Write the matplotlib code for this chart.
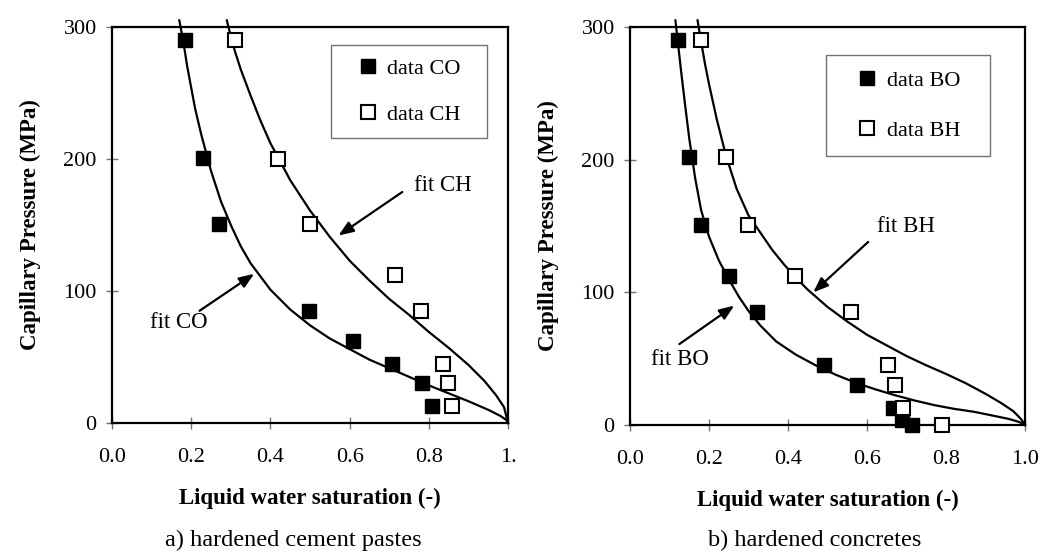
import matplotlib
matplotlib.use('Agg')
import matplotlib.pyplot as plt

plt.rcParams['font.family'] = ['Liberation Serif', 'DejaVu Serif']

# measured points, hardened cement pastes
co_x = [0.184, 0.229, 0.271, 0.497, 0.608, 0.706, 0.782, 0.809]
co_y = [290, 201, 151, 85, 62, 45, 30, 13]
ch_x = [0.31, 0.42, 0.50, 0.714, 0.781, 0.837, 0.849, 0.859]
ch_y = [290, 200, 151, 112, 85, 45, 30, 13]

# measured points, hardened concretes
bo_x = [0.121, 0.150, 0.179, 0.251, 0.322, 0.491, 0.574, 0.665, 0.689, 0.713]
bo_y = [290, 202, 151, 112, 85, 45, 30, 13, 4, 0]
bh_x = [0.181, 0.242, 0.298, 0.418, 0.559, 0.654, 0.671, 0.692, 0.789]
bh_y = [290, 202, 151, 112, 85, 45, 30, 13, 0]

# fitted curves
co_fit_x = [0.17, 0.18, 0.19, 0.20, 0.21, 0.225, 0.25, 0.275, 0.30, 0.325, 0.35, 0.375, 0.40,
            0.45, 0.50, 0.55, 0.60, 0.65, 0.70, 0.75, 0.80, 0.85, 0.90, 0.95, 0.98, 0.995, 1.0]
co_fit_y = [305, 289, 270, 254, 238, 219, 191, 168, 150, 134, 121, 111, 101,
            86, 74, 64, 56, 48, 41.5, 35, 28.5, 22.5, 16.5, 10, 5.5, 2.5, 0]
ch_fit_x = [0.29, 0.30, 0.31, 0.325, 0.35, 0.375, 0.40, 0.45, 0.50, 0.55, 0.60, 0.65, 0.70,
            0.75, 0.80, 0.85, 0.90, 0.94, 0.97, 0.99, 1.0]
ch_fit_y = [305, 293, 282, 268, 248, 229, 212, 184, 161, 141, 123, 108, 94,
            82, 69, 57, 44, 32, 21, 12, 0]
bo_fit_x = [0.115, 0.121, 0.13, 0.14, 0.15, 0.165, 0.18, 0.20, 0.225, 0.25, 0.275, 0.30, 0.33,
            0.37, 0.42, 0.47, 0.52, 0.57, 0.62, 0.67, 0.72, 0.77, 0.82, 0.87, 0.92, 0.96, 0.985, 1.0]
bo_fit_y = [305, 289, 265, 240, 216, 186, 162, 142, 124, 110, 97, 86, 75,
            63, 53, 45, 38, 32, 27, 22.5, 18.5, 15, 12.2, 10, 7, 4.5, 2.3, 0]
bh_fit_x = [0.171, 0.18, 0.19, 0.20, 0.22, 0.243, 0.27, 0.30, 0.33, 0.36, 0.39, 0.42, 0.45, 0.50,
            0.55, 0.60, 0.65, 0.70, 0.75, 0.80, 0.85, 0.90, 0.94, 0.97, 0.99, 1.0]
bh_fit_y = [305, 289, 272, 257, 230, 203, 178, 158, 145, 132, 121, 111, 102, 89,
            78, 68, 60, 52, 45, 38.5, 31.5, 23.5, 16.5, 10.5, 4.5, 0]

xticks = [0.0, 0.2, 0.4, 0.6, 0.8, 1.0]
yticks = [0, 100, 200, 300]


def setup_axes(ax, xticklabels):
    ax.set_xlim(0, 1)
    ax.set_ylim(0, 300)
    ax.set_xticks(xticks)
    ax.set_xticklabels(xticklabels)
    ax.set_yticks(yticks)
    for sp in ax.spines.values():
        sp.set_linewidth(1.6)
        sp.set_color('black')
    ax.tick_params(axis='both', direction='inout', length=8, width=1,
                   color='0.45', labelsize=16)
    ax.tick_params(axis='x', pad=14)
    ax.tick_params(axis='y', pad=7)
    ax.set_xlabel('Liquid water saturation (-)', fontsize=16.5, fontweight='bold', labelpad=15)
    ax.set_ylabel('Capillary Pressure (MPa)', fontsize=16.5, fontweight='bold', labelpad=16)


def draw_panel(ax, fit_o, fit_h, dat_o, dat_h, names):
    ax.plot(fit_o[0], fit_o[1], color='black', lw=1.6, clip_on=False, zorder=3)
    ax.plot(fit_h[0], fit_h[1], color='black', lw=1.6, clip_on=False, zorder=3)
    h1, = ax.plot(dat_o[0], dat_o[1], ls='none', marker='s', ms=9.5, mfc='black', mec='black',
                  clip_on=False, zorder=4, label=names[0])
    h2, = ax.plot(dat_h[0], dat_h[1], ls='none', marker='s', ms=9.5, mfc='white', mec='black',
                  mew=1.5, clip_on=False, zorder=4, label=names[1])
    return [h1, h2]


def arrow(ax, label, text_xy, tail, tip):
    ax.annotate('', xy=tip, xytext=tail,
                arrowprops=dict(arrowstyle='-|>,head_length=0.9,head_width=0.35',
                                color='black', lw=1.6, shrinkA=0, shrinkB=0))
    ax.text(text_xy[0], text_xy[1], label, fontsize=16.5, ha='left', va='center')


fig = plt.figure(figsize=(10.43, 5.54), dpi=100)
ax1 = fig.add_axes([112 / 1043, 131 / 554, 396 / 1043, 396 / 554])
ax2 = fig.add_axes([630 / 1043, 129 / 554, 395 / 1043, 398 / 554])

setup_axes(ax1, ['0.0', '0.2', '0.4', '0.6', '0.8', '1.'])
setup_axes(ax2, ['0.0', '0.2', '0.4', '0.6', '0.8', '1.0'])

hs = draw_panel(ax1, (co_fit_x, co_fit_y), (ch_fit_x, ch_fit_y), (co_x, co_y), (ch_x, ch_y),
                ['data CO', 'data CH'])
leg = ax1.legend(hs, ['data CO', 'data CH'], loc='upper left',
                 bbox_to_anchor=(0.552, 0.5, 0.396, 0.4545), mode='expand', borderaxespad=0,
                 borderpad=0.6, labelspacing=1.13, handlelength=2.19, handletextpad=-0.27,
                 fontsize=16, fancybox=False, edgecolor='0.45', framealpha=1, markerscale=1.0)
leg.get_frame().set_linewidth(1.0)
arrow(ax1, 'fit CH', (0.763, 180), (0.733, 175), (0.572, 142))
arrow(ax1, 'fit CO', (0.096, 76), (0.221, 85), (0.359, 113))

hs = draw_panel(ax2, (bo_fit_x, bo_fit_y), (bh_fit_x, bh_fit_y), (bo_x, bo_y), (bh_x, bh_y),
                ['data BO', 'data BH'])
leg = ax2.legend(hs, ['data BO', 'data BH'], loc='upper left',
                 bbox_to_anchor=(0.496, 0.5, 0.416, 0.43), mode='expand', borderaxespad=0,
                 borderpad=0.68, labelspacing=1.35, handlelength=2.34, handletextpad=-0.27,
                 fontsize=16, fancybox=False, edgecolor='0.45', framealpha=1, markerscale=1.0)
leg.get_frame().set_linewidth(1.0)
arrow(ax2, 'fit BH', (0.625, 150), (0.603, 138), (0.464, 100))
arrow(ax2, 'fit BO', (0.053, 49), (0.125, 61), (0.264, 90))

fig.text(0.281, 14 / 554, 'a) hardened cement pastes', fontsize=17.5, ha='center', va='center')
fig.text(0.781, 14 / 554, 'b) hardened concretes', fontsize=17.5, ha='center', va='center')

fig.savefig('out.png', dpi=100)
